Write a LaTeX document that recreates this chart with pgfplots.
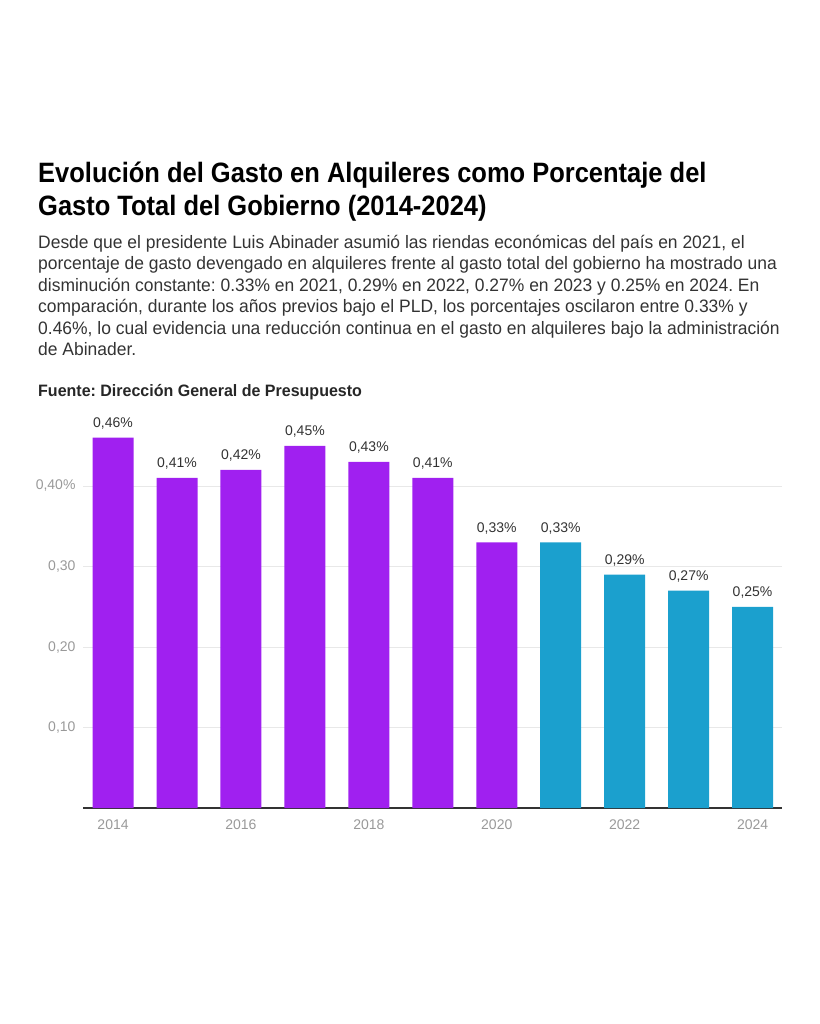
\documentclass[border=0pt]{standalone}
\usepackage{fontspec}
\setmainfont{Liberation Sans}
\newfontfamily\titlefont{Liberation Sans}[FakeStretch=0.91]
\newfontfamily\subfont{Liberation Sans}[FakeStretch=0.97]
\usepackage{pgfplots}
\pgfplotsset{compat=1.18}
\definecolor{purp}{HTML}{A020F0}
\definecolor{blu}{HTML}{1BA0CE}
\definecolor{gridc}{HTML}{E8E8E8}
\definecolor{ticktxt}{HTML}{999999}
\definecolor{valtxt}{HTML}{333333}
\frenchspacing
\begin{document}
\begin{tikzpicture}[x=1pt,y=1pt]
\path[use as bounding box] (0,0) rectangle (819,-1024);
\tikzset{tl/.style={anchor=base west,inner sep=0,font=\titlefont\bfseries\fontsize{28}{33}\selectfont},
         sl/.style={anchor=base west,inner sep=0,text=valtxt,font=\subfont\fontsize{18}{21.5}\selectfont}}
\node[tl] at (38,-183) {Evolución del Gasto en Alquileres como Porcentaje del};
\node[tl] at (38,-216) {Gasto Total del Gobierno (2014-2024)};
\node[sl] at (38,-248) {Desde que el presidente Luis Abinader asumió las riendas económicas del país en 2021, el};
\node[sl] at (38,-269.5) {porcentaje de gasto devengado en alquileres frente al gasto total del gobierno ha mostrado una};
\node[sl] at (38,-291) {disminución constante: 0.33\% en 2021, 0.29\% en 2022, 0.27\% en 2023 y 0.25\% en 2024. En};
\node[sl] at (38,-312.5) {comparación, durante los años previos bajo el PLD, los porcentajes oscilaron entre 0.33\% y};
\node[sl] at (38,-334) {0.46\%, lo cual evidencia una reducción continua en el gasto en alquileres bajo la administración};
\node[sl] at (38,-355.5) {de Abinader.};
\node[anchor=base west,inner sep=0,text=black!85] at (38,-396) {\subfont\bfseries\fontsize{16.5}{20}\selectfont Fuente: Dirección General de Presupuesto};
\begin{axis}[
  at={(83pt,-808pt)}, anchor=south west,
  scale only axis, width=699pt, height=394.45pt,
  xmin=-0.47, xmax=10.46, ymin=0, ymax=0.49,
  clip=false,
  axis x line*=bottom, axis y line*=left,
  y axis line style={draw=none},
  x axis line style={line width=1.3pt, color=valtxt},
  ymajorgrids, xmajorgrids=false, grid style={draw=gridc, line width=1pt},
  ytick={0.1,0.2,0.3,0.4},
  yticklabels={{0,10},{0,20},{0,30},{0,40\%}},
  xtick={0,2,4,6,8,10},
  xticklabels={2014,2016,2018,2020,2022,2024},
  major tick length=0pt,
  ticklabel style={font=\fontsize{14}{16}\selectfont, text=ticktxt},
  yticklabel style={anchor=east, xshift=-4pt},
  xticklabel style={anchor=north, yshift=-8pt},
  /pgf/number format/assume math mode=true,
  ybar, bar width=41pt,
  nodes near coords={\pgfmathprintnumber[fixed,fixed zerofill,precision=2,use comma,assume math mode=true]{\pgfplotspointmeta}\%},
  every node near coord/.append style={font=\fontsize{14}{16}\selectfont, text=valtxt, anchor=base, yshift=10pt},
]
\addplot[fill=purp, draw=none, bar shift=0pt] coordinates {
(0,0.46) (1,0.41) (2,0.42) (3,0.45) (4,0.43) (5,0.41) (6,0.33)};
\addplot[fill=blu, draw=none, bar shift=0pt] coordinates {
(7,0.33) (8,0.29) (9,0.27) (10,0.25)};
\end{axis}
\end{tikzpicture}
\end{document}
